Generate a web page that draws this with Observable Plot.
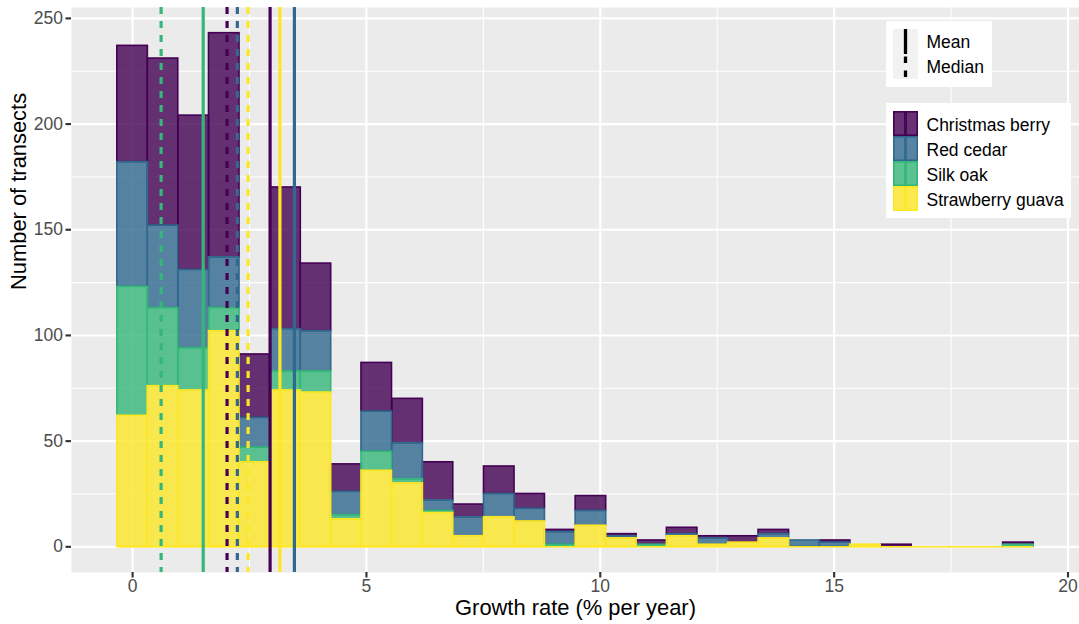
<!DOCTYPE html>
<html><head><meta charset="utf-8">
<script src="https://cdn.jsdelivr.net/npm/d3@7"></script>
<script src="https://cdn.jsdelivr.net/npm/@observablehq/plot@0.6"></script>
<style>
body{margin:0;background:#fff;font-family:"Liberation Sans",Arial,sans-serif;}
#wrap{position:relative;width:1079px;height:624px;overflow:hidden;}
#wrap svg{display:block;}
#legend{position:absolute;left:0;top:0;pointer-events:none;}
</style></head>
<body><div id="wrap"></div>
<script>
// ---- data ----
const species = ["Christmas berry", "Red cedar", "Silk oak", "Strawberry guava"];
const speciesColors = ["#440154", "#31688E", "#35B779", "#FDE725"];
const binWidth = 0.653;
const binCenters = [0, 0.65, 1.31, 1.96, 2.61, 3.27, 3.92, 4.57, 5.22, 5.88, 6.53, 7.18, 7.84, 8.49, 9.14,
  9.80, 10.45, 11.10, 11.75, 12.41, 13.06, 13.71, 14.37, 15.02, 15.67, 16.33, 16.98, 17.63, 18.28, 18.94];
const countsGuava   = [62, 76, 74, 102, 40, 74, 73, 13, 36, 30, 16, 5, 14, 12, 0, 10, 4, 0, 5, 1, 2, 4, 0, 0, 1, 0, 0, 0, 0, 0];
const countsSilkOak = [61, 37, 20, 11, 7, 9, 10, 2, 9, 2, 1, 0, 0, 0, 1, 0, 0, 1, 0, 0, 0, 0, 0, 0, 0, 0, 0, 0, 0, 1];
const countsCedar   = [59, 39, 37, 24, 14, 20, 19, 11, 19, 17, 5, 9, 11, 6, 6, 7, 1, 0, 1, 3, 0, 2, 3, 2, 0, 0, 0, 0, 0, 0];
const countsBerry   = [55, 79, 73, 106, 30, 67, 32, 13, 23, 21, 18, 6, 13, 7, 1, 7, 1, 2, 3, 1, 3, 2, 0, 1, 0, 1, 0, 0, 0, 1];
const meanRates   = [2.94, 3.46, 1.51, 3.15];   // per species, same order
const medianRates = [2.02, 2.24, 0.61, 2.47];
const xTicks = [0, 5, 10, 15, 20];
const xMinor = [2.5, 7.5, 12.5, 17.5];
const yTicks = [0, 50, 100, 150, 200, 250];
const yMinor = [25, 75, 125, 175, 225];
const statLabels = ["Mean", "Median"];

// ---- build stacked table (bottom: guava, then silk oak, red cedar, berry) ----
const countsBySpecies = {
  "Christmas berry": countsBerry, "Red cedar": countsCedar,
  "Silk oak": countsSilkOak, "Strawberry guava": countsGuava
};
const stackOrder = ["Strawberry guava", "Silk oak", "Red cedar", "Christmas berry"];
const rows = [];
binCenters.forEach((c, i) => {
  let base = 0;
  for (const s of stackOrder) {
    const v = countsBySpecies[s][i];
    rows.push({species: s, x1: c - binWidth / 2, x2: c + binWidth / 2, y1: base, y2: base + v, count: v});
    base += v;
  }
});
const drawOrder = ["Christmas berry", "Red cedar", "Silk oak", "Strawberry guava"];
rows.sort((a, b) => drawOrder.indexOf(a.species) - drawOrder.indexOf(b.species));
const barRows = rows.filter(d => d.count > 0);
const guavaBase = rows.filter(d => d.species === "Strawberry guava");
const stats = species.map((s, i) => ({species: s, mean: meanRates[i], median: medianRates[i]}));

const font = '"Liberation Sans", Arial, sans-serif';
const dataMaxX = binCenters[binCenters.length - 1] + binWidth / 2;
const dataMinX = binCenters[0] - binWidth / 2;
const padX = (dataMaxX - dataMinX) * 0.05;
const maxTotal = d3.max(binCenters.map((c, i) => countsGuava[i] + countsSilkOak[i] + countsCedar[i] + countsBerry[i]));
const padY = maxTotal * 0.05;

const chart = Plot.plot({
  width: 1079, height: 624,
  marginLeft: 71, marginRight: 0, marginTop: 7, marginBottom: 52,
  style: {fontFamily: font, background: "white", color: "black", overflow: "visible"},
  x: {domain: [dataMinX - padX, dataMaxX + padX]},
  y: {domain: [-padY, maxTotal + padY]},
  color: {domain: species, range: speciesColors},
  marks: [
    Plot.frame({fill: "#EBEBEB", stroke: "none"}),
    Plot.ruleY(yMinor, {stroke: "white", strokeWidth: 1.07}),
    Plot.ruleX(xMinor, {stroke: "white", strokeWidth: 1.07}),
    Plot.ruleY(yTicks, {stroke: "white", strokeWidth: 2.13}),
    Plot.ruleX(xTicks, {stroke: "white", strokeWidth: 2.13}),
    Plot.rect(barRows, {x1: "x1", x2: "x2", y1: "y1", y2: "y2", fill: "species", fillOpacity: 0.8,
      stroke: "species", strokeWidth: 1.6}),
    Plot.ruleY(guavaBase, {y: "y1", x1: "x1", x2: "x2", stroke: "species", strokeWidth: 1.6}),
    Plot.ruleX(stats, {x: "mean", stroke: "species", strokeWidth: 3.2}),
    Plot.ruleX(stats, {x: "median", stroke: "species", strokeWidth: 3.2, strokeDasharray: "7,7"}),
    Plot.axisX({ticks: xTicks, tickSize: 5.5, tickPadding: 2, fontSize: 17.5, fill: "#4D4D4D",
      stroke: "#333333", strokeWidth: 2.13, label: null}),
    Plot.axisY({ticks: yTicks, tickSize: 5.5, tickPadding: 3, fontSize: 17.5, fill: "#4D4D4D",
      stroke: "#333333", strokeWidth: 2.13, label: null}),
    Plot.text(["Growth rate (% per year)"], {frameAnchor: "bottom", dy: 35, fontSize: 21.9,
      lineAnchor: "middle", fill: "black"}),
    Plot.text(["Number of transects"], {frameAnchor: "left", dx: -53, rotate: -90, fontSize: 21.9,
      lineAnchor: "middle", fill: "black"})
  ]
});
const wrap = document.getElementById("wrap");
wrap.appendChild(chart);

// ---- legends ----
const lg = d3.select(wrap).append("svg").attr("id", "legend").attr("width", 1079).attr("height", 624)
  .style("font-family", font);
lg.append("rect").attr("x", 886).attr("y", 21).attr("width", 106).attr("height", 66).attr("fill", "white");
lg.append("rect").attr("x", 893).attr("y", 29).attr("width", 25).attr("height", 50).attr("fill", "#F2F2F2");
lg.append("line").attr("x1", 905.5).attr("x2", 905.5).attr("y1", 29).attr("y2", 54)
  .attr("stroke", "black").attr("stroke-width", 3.3);
lg.append("line").attr("x1", 905.5).attr("x2", 905.5).attr("y1", 56.5).attr("y2", 79)
  .attr("stroke", "black").attr("stroke-width", 3.3).attr("stroke-dasharray", "6.5,7.5");
statLabels.forEach((t, i) => {
  lg.append("text").attr("x", 926.5).attr("y", 48.3 + i * 25).attr("font-size", 17.5).attr("fill", "black").text(t);
});
lg.append("rect").attr("x", 886).attr("y", 103).attr("width", 185).attr("height", 115).attr("fill", "white");
species.forEach((s, i) => {
  const y0 = 111 + i * 25;
  lg.append("rect").attr("x", 893).attr("y", y0).attr("width", 25).attr("height", 25).attr("fill", "#F2F2F2");
  lg.append("rect").attr("x", 893.8).attr("y", y0 + 0.8).attr("width", 23.4).attr("height", 23.4)
    .attr("fill", speciesColors[i]).attr("fill-opacity", 0.8)
    .attr("stroke", speciesColors[i]).attr("stroke-width", 1.6);
  lg.append("line").attr("x1", 905.5).attr("x2", 905.5).attr("y1", y0).attr("y2", y0 + 25)
    .attr("stroke", speciesColors[i]).attr("stroke-width", 3).attr("stroke-opacity", 0.9);
  lg.append("text").attr("x", 926.5).attr("y", 130.8 + i * 25).attr("font-size", 17.5).attr("fill", "black").text(s);
});
</script>
</body></html>
